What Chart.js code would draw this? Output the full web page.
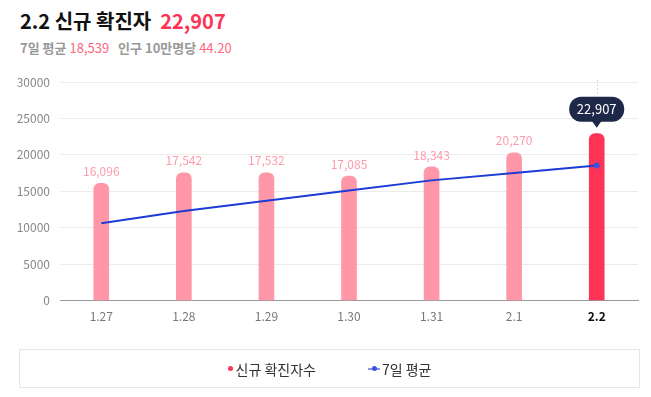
<!DOCTYPE html>
<html>
<head>
<meta charset="utf-8">
<script src="https://cdn.jsdelivr.net/npm/chart.js@4/dist/chart.umd.min.js"></script>
<style>
  body { margin: 0; background: #fff; font-family: "Noto Sans CJK KR", "Noto Sans", sans-serif; }
  #wrap { position: relative; width: 651px; height: 397px; overflow: hidden; }
  #chartBox { position: absolute; left: 0; top: 0; width: 651px; height: 397px; }
  .title { position: absolute; left: 20px; top: 6px; font-size: 20px; font-weight: bold; color: #111; white-space: nowrap; }
  .title .num { color: #ff3355; margin-left: 9px; }
  .sub { position: absolute; left: 20px; top: 38px; font-size: 13px; font-weight: bold; color: #999; white-space: nowrap; }
  .sub .v { font-weight: normal; color: #ff6680; margin-right: 6px; }
  .legend { position: absolute; left: 19px; top: 349px; width: 621px; height: 39px; border: 1px solid #e6e6e6; box-sizing: border-box;
            display: flex; justify-content: center; align-items: center; font-size: 14px; color: #333; }
  .legend span { display: inline-flex; align-items: center; }
  .dot { width: 5px; height: 5px; border-radius: 50%; background: #ff3355; margin-right: 3px; }
  .lmark { position: relative; width: 12px; height: 2px; background: #8a96e6; margin-right: 2px; }
  .lmark::after { content: ""; position: absolute; left: 4px; top: -2px; width: 5px; height: 5px; border-radius: 50%; background: #3b55d8; }
</style>
</head>
<body>
<div id="wrap">
  <div class="title">2.2 신규 확진자<span class="num">22,907</span></div>
  <div class="sub">7일 평균 <span class="v">18,539</span> 인구 10만명당 <span class="v">44.20</span></div>
  <div id="chartBox"><canvas id="myChart"></canvas></div>
  <div class="legend" id="legend"></div>
</div>
<script>
const dates = ['1.27', '1.28', '1.29', '1.30', '1.31', '2.1', '2.2'];
const newCases = [16096, 17542, 17532, 17085, 18343, 20270, 22907];
const avg7 = [10600, 12300, 13700, 15100, 16500, 17500, 18539];
const yTicks = [0, 5000, 10000, 15000, 20000, 25000, 30000];

const lastIdx = dates.length - 1;
const fmt = v => v.toLocaleString('en-US');

const barLabels = {
    id: 'barLabels',
    afterDatasetsDraw(chart) {
        const ctx = chart.ctx;
        const meta = chart.getDatasetMeta(1); // bars
        const area = chart.chartArea;
        ctx.save();
        meta.data.forEach((bar, i) => {
            if (i === lastIdx) {
                // dotted guide line
                ctx.strokeStyle = '#d8d8d8';
                ctx.lineWidth = 1;
                ctx.setLineDash([2, 2]);
                ctx.beginPath();
                ctx.moveTo(Math.round(bar.x) + 0.5, area.top - 2);
                ctx.lineTo(Math.round(bar.x) + 0.5, bar.y - 8);
                ctx.stroke();
                ctx.setLineDash([]);
                // bubble
                const w = 55, h = 25, r = 12;
                const bx = bar.x - w / 2, by = bar.y - 12 - h;
                ctx.fillStyle = '#1e2848';
                ctx.beginPath();
                ctx.roundRect(bx, by, w, h, r);
                ctx.fill();
                ctx.beginPath();
                ctx.moveTo(bar.x - 5, by + h - 1);
                ctx.lineTo(bar.x + 5, by + h - 1);
                ctx.lineTo(bar.x, by + h + 6);
                ctx.closePath();
                ctx.fill();
                ctx.fillStyle = '#fff';
                ctx.font = '13px "Noto Sans CJK KR", sans-serif';
                ctx.textAlign = 'center';
                ctx.textBaseline = 'middle';
                ctx.fillText(fmt(newCases[i]), bar.x, by + h / 2);
            } else {
                ctx.fillStyle = '#ff9aab';
                ctx.font = '12px "Noto Sans CJK KR", sans-serif';
                ctx.textAlign = 'center';
                ctx.textBaseline = 'middle';
                ctx.fillText(fmt(newCases[i]), bar.x, bar.y - 12);
            }
        });
        ctx.restore();
    }
};

const ctx = document.getElementById('myChart').getContext('2d');
const myChart = new Chart(ctx, {
    data: {
        labels: dates,
        datasets: [
            {
                type: 'line',
                label: '7일 평균',
                data: avg7,
                borderColor: '#1d3bd6',
                backgroundColor: '#3b55d8',
                borderWidth: 2,
                pointRadius: dates.map((d, i) => i === lastIdx ? 3 : 0),
                pointBorderWidth: 0,
                tension: 0,
                order: 0,
            },
            {
                type: 'bar',
                label: '신규 확진자수',
                data: newCases,
                backgroundColor: dates.map((d, i) => i === lastIdx ? '#ff3355' : '#ff97a8'),
                barThickness: 15,
                borderRadius: { topLeft: 6, topRight: 6, bottomLeft: 0, bottomRight: 0 },
                borderSkipped: 'bottom',
                order: 1,
            },
        ],
    },
    options: {
        responsive: true,
        maintainAspectRatio: false,
        animation: false,
        layout: { padding: { left: 0, right: 13, top: 82, bottom: 64 } },
        plugins: {
            legend: { display: false },
            tooltip: { enabled: false },
        },
        scales: {
            x: {
                grid: { display: false, drawTicks: false },
                border: { color: '#999', width: 1 },
                ticks: {
                    padding: 9,
                    font: ctx => ({ family: '"Noto Sans CJK KR", sans-serif', size: 12, weight: ctx.index === lastIdx ? 'bold' : 'normal' }),
                    color: ctx => ctx.index === lastIdx ? '#111' : '#777',
                },
            },
            y: {
                min: 0,
                max: 30000,
                afterBuildTicks: scale => { scale.ticks = yTicks.map(v => ({ value: v })); },
                afterFit: scale => { scale.width = 60; },
                grid: { color: '#ececec', drawTicks: false },
                border: { display: false },
                ticks: {
                    padding: 10,
                    font: { family: '"Noto Sans CJK KR", sans-serif', size: 12 },
                    color: '#888',
                    callback: v => String(v),
                },
            },
        },
    },
    plugins: [barLabels],
});

// html legend
const legendEl = document.getElementById('legend');
legendEl.innerHTML =
    '<span style="margin-right:52px"><i class="dot"></i>' + myChart.data.datasets[1].label + '</span>' +
    '<span><i class="lmark"></i>' + myChart.data.datasets[0].label + '</span>';
</script>
</body>
</html>
